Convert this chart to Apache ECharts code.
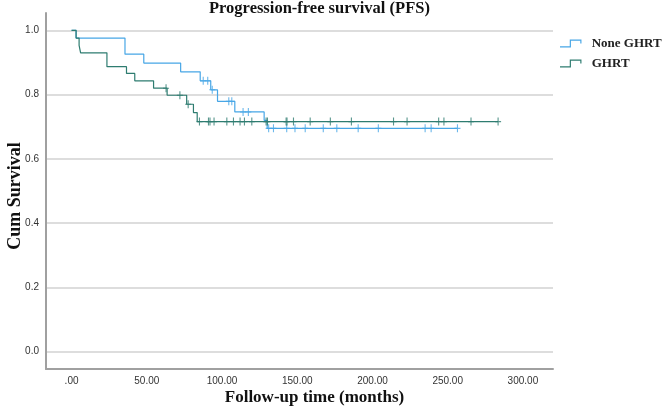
<!DOCTYPE html>
<html>
<head>
<meta charset="utf-8">
<script src="https://cdn.jsdelivr.net/npm/echarts@6/dist/echarts.min.js"></script>
<style>html,body{margin:0;padding:0;background:#fff;}#chart{width:669px;height:413px;}</style>
</head>
<body>
<div id="chart"></div>
<script>
// ---- data ----
const seriesNames = ['None GHRT', 'GHRT'];
// None GHRT: event times and survival after each step
const noneTimes = [0, 3, 35.5, 48, 72.5, 85.5, 92.5, 97, 108.5, 128, 130];
const noneSurv  = [1, 0.976, 0.926, 0.898, 0.871, 0.843, 0.815, 0.779, 0.746, 0.72, 0.695];
const noneEnd = 256.5;
const noneCensor = [87.5, 90.5, 93.5, 104.5, 106.5, 114, 117.5, 131, 134.2, 143, 148.5, 155.3, 167.3, 176.3, 190.5, 203.9, 235, 239, 256.5];
// GHRT
const ghrtTimes = [0, 3, 5, 6, 23.5, 36.5, 42, 54.5, 63.5, 76.5, 81, 83.5];
const ghrtSurv  = [1, 0.976, 0.953, 0.93, 0.887, 0.866, 0.843, 0.82, 0.798, 0.77, 0.744, 0.716];
const ghrtEnd = 283.5;
const ghrtCensor = [62.8, 72, 77.5, 85, 91, 92, 94.7, 103.2, 107.6, 112, 114.9, 119.8, 129.3, 130.2, 142.6, 143.2, 147.5, 158.6, 172, 186, 214, 223, 244, 247.5, 265.5, 283.5];
// axis ticks
const xTicks = [0, 50, 100, 150, 200, 250, 300];
const yTicks = [0, 0.2, 0.4, 0.6, 0.8, 1.0];

// ---- helpers ----
function stepData(times, surv, end) {
  const d = times.map((t, i) => [t, surv[i]]);
  d.push([end, surv[surv.length - 1]]);
  return d;
}
function survAt(times, surv, t) {
  let s = surv[0];
  for (let i = 0; i < times.length; i++) if (times[i] <= t) s = surv[i];
  return s;
}
function censorData(times, surv, cens) {
  return cens.map(t => [t, survAt(times, surv, t)]);
}

const blue = '#47a6e6';
const green = '#2e7c70';
const serif = 'Liberation Serif';
const sans = 'Liberation Sans';
const plus = 'path://M-0.55,-4L0.55,-4L0.55,-0.55L3,-0.55L3,0.55L0.55,0.55L0.55,4L-0.55,4L-0.55,0.55L-3,0.55L-3,-0.55L-0.55,-0.55Z';
const stepIcon = 'path://M0,7L10,7L10,0L22,0L22,4L20.8,4L20.8,1.2L11.2,1.2L11.2,8.2L0,8.2Z';

const chart = echarts.init(document.getElementById('chart'), null, {renderer: 'canvas'});
chart.setOption({
  animation: false,
  backgroundColor: '#fff',
  title: {
    text: 'Progression-free survival (PFS)',
    left: 204, top: -5,
    textStyle: {fontFamily: serif, fontWeight: 'bold', fontSize: 16.5, color: '#111'}
  },
  legend: {
    data: seriesNames.map((n, i) => ({name: n, icon: stepIcon, itemStyle: {color: i === 0 ? blue : green}})),
    orient: 'vertical',
    left: 560, top: 37, padding: 0,
    itemWidth: 22, itemHeight: 8,
    itemGap: 7,
    textStyle: {fontFamily: serif, fontWeight: 'bold', fontSize: 13, color: '#222', padding: [0, 0, 0, 5]}
  },
  grid: {left: 46, right: 116, top: 13, bottom: 44, containLabel: false, outerBoundsMode: 'none'},
  xAxis: {
    type: 'value', min: -17, max: 320,
    name: 'Follow-up time (months)', nameLocation: 'middle', nameGap: 20, nameMoveOverlap: false,
    nameTextStyle: {fontFamily: serif, fontWeight: 'bold', fontSize: 17, color: '#111', padding: [0, 0, 0, 30]},
    axisLine: {show: true, onZero: false, lineStyle: {color: '#a0a0a0', width: 2}},
    axisTick: {show: false, customValues: xTicks},
    axisLabel: {customValues: xTicks, margin: 7, fontFamily: sans, fontSize: 10, color: '#333',
      formatter: v => v === 0 ? '.00' : v.toFixed(2)},
    splitLine: {show: false}
  },
  yAxis: {
    type: 'value', min: -0.054, max: 1.054,
    name: 'Cum Survival', nameLocation: 'middle', nameGap: 22, nameRotate: 90, nameMoveOverlap: false,
    nameTextStyle: {fontFamily: serif, fontWeight: 'bold', fontSize: 18, color: '#111', padding: [0, 10, 0, 0]},
    axisLine: {show: true, onZero: false, lineStyle: {color: '#a0a0a0', width: 2}},
    axisTick: {show: false, customValues: yTicks},
    axisLabel: {customValues: yTicks, margin: 7, fontFamily: sans, fontSize: 10, color: '#333',
      formatter: v => v.toFixed(1)},
    splitLine: {show: true, lineStyle: {color: '#d2d2d2', width: 1.5}}
  },
  series: [
    {name: 'None GHRT', type: 'line', step: 'end', showSymbol: false, symbol: 'none',
      lineStyle: {color: blue, width: 1.2}, itemStyle: {color: blue},
      data: stepData(noneTimes, noneSurv, noneEnd), z: 3},
    {name: 'GHRT', type: 'line', step: 'end', showSymbol: false, symbol: 'none',
      lineStyle: {color: green, width: 1.2}, itemStyle: {color: green},
      data: stepData(ghrtTimes, ghrtSurv, ghrtEnd), z: 4},
    {name: 'None GHRT censored', type: 'scatter', symbol: plus, symbolSize: [6, 8],
      itemStyle: {color: blue}, data: censorData(noneTimes, noneSurv, noneCensor), z: 5},
    {name: 'GHRT censored', type: 'scatter', symbol: plus, symbolSize: [6, 8],
      itemStyle: {color: green}, data: censorData(ghrtTimes, ghrtSurv, ghrtCensor), z: 6}
  ]
});
</script>
</body>
</html>
